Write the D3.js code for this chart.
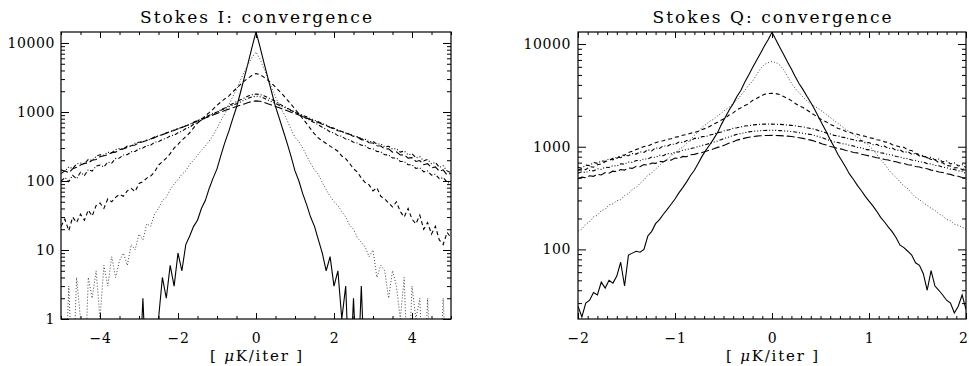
<!DOCTYPE html>
<html>
<head>
<meta charset="utf-8">
<script src="https://cdn.jsdelivr.net/npm/d3@7"></script>
<style>
  body { margin: 0; background: #fff; }
  svg { display: block; }
  text { font-family: "DejaVu Serif", serif; fill: #000; }
</style>
</head>
<body>
<div id="chart"></div>
<script>
// histogram bin centres
const binsI = d3.range(101).map(i => -5 + i * 0.1)
const binsQ = d3.range(101).map(i => -2 + i * 0.04)

// Stokes I, iterations 1..6 (counts per bin)
const iterI1 = [0,0,0,0,0,0,0,0,0,0, 0,0,0,0,0,0,0,0,0,0, 0,2,0,0,0,1,4,2,6,3,
  9,5,12,16,22,27,40,52,78,110, 150,235,360,520,790,1170,1900,3150,5200,8800, 14500,
  8900,5300,3200,1950,1200,800,530,350,225,140, 100,65,45,30,22,14,9,5,8,3,
  5,1,3,0,2,0,3,0,0,0, 0,0,0,0,0,0,0,0,0,0, 0,0,0,0,0,0,0,0,0,0]
const iterI2 = [1,0,3,0,4,1,0,4,2,5, 1,6,3,8,4,7,9,6,12,10, 17,14,24,22,33,40,52,58,75,90,
  105,125,140,175,200,235,280,320,380,460, 580,750,950,1250,1650,2100,2900,3800,4900,6200, 7400,
  5900,4300,3100,2250,1650,1250,980,760,560,430, 370,300,230,180,145,125,95,75,60,50,
  44,36,30,23,20,15,13,11,8,10, 4,6,5,2,5,3,1,4,0,3, 1,2,0,2,0,1,0,2,0,1]
const iterI3 = [22,28,19,30,25,33,27,38,31,44, 48,40,55,50,58,64,60,72,78,70, 92,98,110,118,135,170,190,215,250,300,
  340,390,440,500,590,690,780,880,980,1100, 1250,1400,1550,1700,1950,2200,2500,2800,3100,3400, 3600,
  3500,3200,2900,2600,2300,2000,1750,1500,1300,1100, 940,800,680,570,480,420,380,350,320,295,
  270,230,210,180,150,135,110,95,88,72, 80,60,55,48,42,50,36,30,40,28, 24,32,20,25,17,22,14,12,18,15]
const iterI4 = [100,112,98,121,108,134,120,146,139,165, 170,160,188,181,212,215,238,241,266,268,
  292,300,325,330,365,372,400,415,450,462, 500,525,575,600,665,705,765,815,885,935,
  1000,1075,1145,1235,1320,1410,1505,1600,1700,1780, 1820,
  1790,1720,1620,1520,1420,1310,1220,1140,1060,990, 930,870,800,750,700,650,600,565,515,495,
  455,445,405,395,365,355,330,325,295,292, 268,265,240,238,215,215,192,192,172,172,
  152,156,136,140,122,125,108,112,96,90]
const iterI5 = [145,138,160,152,176,182,178,205,198,228, 240,236,262,255,285,296,292,322,318,352,
  365,368,395,400,438,450,468,500,515,552, 575,598,635,660,712,755,800,850,898,955,
  1000,1060,1120,1185,1250,1320,1400,1490,1580,1650, 1700,
  1660,1590,1500,1410,1330,1255,1180,1120,1050,995, 950,895,850,800,760,722,680,648,605,580,
  548,530,495,482,450,440,410,402,372,375, 342,345,312,318,290,294,262,272,240,248,
  218,226,196,205,178,186,158,166,140,132]
const iterI6 = [128,140,132,150,158,170,180,182,200,205, 225,232,240,258,262,285,292,305,325,332,
  360,370,385,408,425,452,470,492,520,540, 570,598,625,660,700,738,775,818,862,905,
  950,1000,1048,1098,1150,1200,1255,1310,1370,1420, 1450,
  1430,1380,1320,1260,1205,1150,1095,1045,995,950, 905,860,815,778,735,705,662,635,596,572,
  535,522,485,475,442,432,398,392,358,355, 325,322,290,292,262,265,238,240,215,218,
  192,198,172,178,155,160,138,145,122,130]

// Stokes Q, iterations 1..6 (counts per bin)
const iterQ1 = [28,22,30,32,38,36,48,42,50,47, 55,75,44,88,92,96,94,100,135,150,
  178,195,220,245,275,310,355,400,455,525, 590,690,810,930,1050,1200,1380,1660,1950,2290,
  2630,3100,3550,4270,5000,5900,6900,8100,9500,11000, 13000,
  11000,9300,7900,6700,5700,4800,4100,3600,3100,2700, 2300,1950,1650,1400,1170,1000,840,730,630,540,
  480,420,375,330,295,265,235,205,185,165, 148,130,110,104,96,88,74,70,58,40,
  62,44,40,36,32,30,24,28,36,26]
const iterQ2 = [151,158,176,186,208,215,238,246,272,278, 298,305,335,350,384,402,440,475,528,556,
  608,655,712,752,818,865,938,995,1075,1170, 1290,1400,1550,1650,1780,1850,2000,2130,2290,2440,
  2630,2870,3160,3540,3980,4360,5000,5750,6300,6600, 6760,
  6600,6250,5650,4850,4150,3700,3350,3050,2800,2620, 2480,2350,2200,2060,1930,1800,1690,1580,1480,1400,
  1310,1240,1170,1120,1020,940,840,745,680,600, 545,500,455,415,390,352,322,305,285,268,
  252,240,222,212,196,190,176,172,164,158]
const iterQ3 = [589,610,598,640,632,668,680,715,735,770, 768,822,828,880,905,940,968,1005,1015,1055,
  1095,1125,1145,1180,1195,1235,1255,1295,1315,1355, 1375,1415,1475,1515,1580,1665,1735,1825,1900,2045,
  2135,2295,2395,2515,2625,2825,2945,3095,3235,3300, 3310,
  3290,3220,3080,2960,2810,2640,2500,2410,2280,2150, 2030,1910,1815,1745,1650,1590,1505,1485,1405,1385,
  1345,1325,1285,1265,1225,1205,1170,1155,1115,1105, 1045,1025,995,985,928,918,865,840,805,785,
  752,745,700,698,655,650,622,625,600,612]
const iterQ4 = [630,618,662,655,702,688,728,722,760,745, 795,782,822,818,858,848,892,880,935,912,
  975,960,1020,1012,1060,1055,1110,1098,1150,1145, 1205,1210,1255,1258,1300,1325,1370,1390,1445,1462,
  1515,1528,1560,1590,1605,1630,1642,1655,1660,1662, 1660,
  1655,1650,1640,1628,1615,1598,1575,1560,1530,1505, 1480,1435,1405,1360,1335,1290,1275,1240,1225,1190,
  1170,1135,1145,1090,1100,1045,1055,1000,1012,960, 972,920,932,880,895,845,860,812,825,780,
  790,745,758,712,728,680,695,650,668,625]
const iterQ5 = [552,570,560,588,582,610,602,632,628,655, 648,682,676,708,702,735,730,762,758,792,
  788,825,818,858,852,890,888,925,935,962, 978,1005,1030,1052,1078,1110,1140,1175,1215,1250,
  1285,1320,1345,1372,1395,1410,1422,1432,1440,1444, 1445,
  1442,1436,1428,1418,1405,1390,1372,1350,1330,1315, 1285,1255,1220,1180,1150,1115,1100,1070,1062,1030,
  1018,985,978,945,932,910,898,872,860,838, 828,802,795,770,765,742,735,712,708,685,
  680,658,652,632,625,605,600,582,575,548]
const iterQ6 = [488,505,498,522,515,540,530,560,552,578, 572,600,592,622,615,645,638,670,662,695,
  688,720,712,748,740,775,770,805,800,835, 842,865,880,905,928,955,985,1010,1045,1085,
  1120,1160,1185,1212,1235,1255,1268,1278,1285,1288, 1290,
  1288,1282,1275,1268,1258,1240,1225,1205,1180,1160, 1130,1100,1065,1040,1005,990,960,948,920,905,
  880,872,845,832,815,800,782,772,752,742, 722,715,695,688,668,662,642,635,618,610,
  592,585,568,562,545,538,522,515,502,492]

const titles = ['Stokes I: convergence', 'Stokes Q: convergence']
const xMajorI = [-4, -2, 0, 2, 4]
const xMajorQ = [-2, -1, 0, 1, 2]
const yMajorI = [1, 10, 100, 1000, 10000]
const yMajorQ = [100, 1000, 10000]

const width = 969
const height = 366

// IDL linestyles 0..5
const lineStyles = [
  { dash: null, color: '#000', width: 1.1 },
  { dash: '1,2', color: '#444', width: 1 },
  { dash: '4,3', color: '#000', width: 1.1 },
  { dash: '4,2,1,2', color: '#000', width: 1.1 },
  { dash: '4,2,1,2,1,2,1,2', color: '#000', width: 1.1 },
  { dash: '8,3', color: '#000', width: 1.1 }
]

const svg = d3.select('#chart')
  .append('svg')
  .attr('width', width)
  .attr('height', height)

function logMinors(domain) {
  const out = []
  for (let p = Math.floor(Math.log10(domain[0])); p <= Math.ceil(Math.log10(domain[1])); p++) {
    for (let m = 2; m <= 9; m++) {
      const v = m * Math.pow(10, p)
      if (v >= domain[0] && v <= domain[1]) out.push(v)
    }
  }
  return out
}

function drawPanel(o) {
  const x = d3.scaleLinear().domain(o.xDomain).range([o.left, o.right])
  const y = d3.scaleLog().domain(o.yDomain).range([o.bottom, o.top])
  const g = svg.append('g')

  g.append('defs').append('clipPath').attr('id', o.id)
    .append('rect')
    .attr('x', o.left).attr('y', o.top)
    .attr('width', o.right - o.left).attr('height', o.bottom - o.top)

  const floor = o.yDomain[0] / 10
  const line = d3.line()
    .x(d => x(d[0]))
    .y(d => y(Math.max(d[1], floor)))

  o.series.forEach((values, k) => {
    const st = lineStyles[k]
    g.append('path')
      .datum(values.map((v, i) => [o.bins[i], v]))
      .attr('clip-path', `url(#${o.id})`)
      .attr('fill', 'none')
      .attr('stroke', st.color)
      .attr('stroke-width', st.width)
      .attr('stroke-dasharray', st.dash)
      .attr('d', line)
  })

  const xMinor = d3.range(o.xDomain[0], o.xDomain[1] + 1e-9, o.xMinorStep)
  const yMinor = logMinors(o.yDomain)

  // bottom
  g.append('g').attr('transform', `translate(0,${o.bottom})`)
    .call(d3.axisBottom(x).tickValues(xMinor).tickSize(-3).tickFormat(''))
  const bx = g.append('g').attr('transform', `translate(0,${o.bottom})`)
    .call(d3.axisBottom(x).tickValues(o.xMajor).tickSize(-6).tickPadding(14).tickFormat(d3.format('d')))
  // a label sitting on the page edge is pulled in so it stays whole
  bx.selectAll('.tick text')
    .filter(d => x(d) + 6 > width)
    .attr('text-anchor', 'end')
    .attr('dx', width - 1 - o.right + 'px')
  // top
  g.append('g').attr('transform', `translate(0,${o.top})`)
    .call(d3.axisTop(x).tickValues(xMinor).tickSize(-3).tickFormat(''))
  g.append('g').attr('transform', `translate(0,${o.top})`)
    .call(d3.axisTop(x).tickValues(o.xMajor).tickSize(-6).tickFormat(''))
  // left
  g.append('g').attr('transform', `translate(${o.left},0)`)
    .call(d3.axisLeft(y).tickValues(yMinor).tickSize(-4).tickFormat(''))
  g.append('g').attr('transform', `translate(${o.left},0)`)
    .call(d3.axisLeft(y).tickValues(o.yMajor).tickSize(-8).tickPadding(o.labelPad).tickFormat(d3.format('d')))
  // right
  g.append('g').attr('transform', `translate(${o.right},0)`)
    .call(d3.axisRight(y).tickValues(yMinor).tickSize(-4).tickFormat(''))
  g.append('g').attr('transform', `translate(${o.right},0)`)
    .call(d3.axisRight(y).tickValues(o.yMajor).tickSize(-8).tickFormat(''))

  g.selectAll('.domain').remove()
  g.selectAll('.tick line').attr('stroke', '#000').attr('stroke-width', 1)
  g.selectAll('.tick text')
    .style('font-family', '"DejaVu Serif", serif')
    .style('font-size', '14px')
    .style('letter-spacing', '0.6px')
    .attr('fill', '#000')

  g.append('rect')
    .attr('x', o.left).attr('y', o.top)
    .attr('width', o.right - o.left).attr('height', o.bottom - o.top)
    .attr('fill', 'none').attr('stroke', '#000').attr('stroke-width', 1.2)

  const cx = (o.left + o.right) / 2
  g.append('text')
    .attr('x', cx).attr('y', 23)
    .attr('text-anchor', 'middle')
    .attr('textLength', o.titleWidth)
    .attr('lengthAdjust', 'spacing')
    .style('font-size', '17px')
    .text(o.title)

  const xt = g.append('text')
    .attr('x', o.xLabelX).attr('y', 361)
    .attr('text-anchor', 'middle')
    .attr('textLength', 92)
    .attr('lengthAdjust', 'spacing')
    .style('font-size', '15px')
  xt.append('tspan').text('[ ')
  xt.append('tspan').style('font-style', 'italic').text('μ')
  xt.append('tspan').text('K/iter ]')
}

drawPanel({
  id: 'clipI', left: 61, right: 451, top: 32, bottom: 319,
  xDomain: [-5, 5], yDomain: [1, 14430], xMinorStep: 0.5,
  xMajor: xMajorI, yMajor: yMajorI, bins: binsI,
  series: [iterI1, iterI2, iterI3, iterI4, iterI5, iterI6],
  title: titles[0], titleWidth: 232, labelPad: 6, xLabelX: 256
})

drawPanel({
  id: 'clipQ', left: 578, right: 966, top: 32, bottom: 319,
  xDomain: [-2, 2], yDomain: [21, 13100], xMinorStep: 0.1,
  xMajor: xMajorQ, yMajor: yMajorQ, bins: binsQ,
  series: [iterQ1, iterQ2, iterQ3, iterQ4, iterQ5, iterQ6],
  title: titles[1], titleWidth: 239, labelPad: 7, xLabelX: 772
})
</script>
</body>
</html>
